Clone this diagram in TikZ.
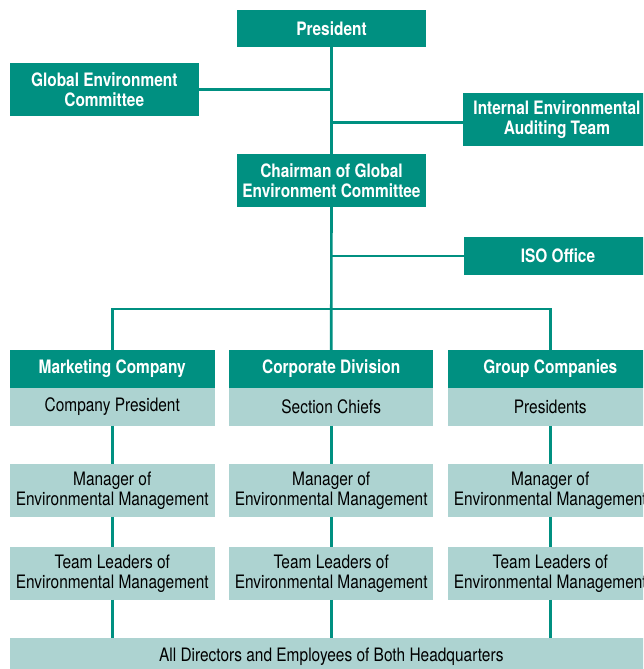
\documentclass[tikz,border=0pt]{standalone}
\usepackage{fontspec}
\setmainfont{TeX Gyre Heros}[FakeStretch=0.835]
\definecolor{teal1}{RGB}{0,144,129}
\definecolor{lite}{RGB}{173,211,209}
\begin{document}
\begin{tikzpicture}[x=1pt,y=-1pt,
  base/.style={rectangle, inner sep=0pt, align=center, font=\fontsize{18.5}{19.8}\selectfont},
  dark/.style={base, fill=teal1, text=white, font=\fontsize{18.5}{19.8}\selectfont\bfseries},
  light/.style={base, fill=lite, text=black},
  conn/.style={draw=teal1, line width=2.6pt}]
\useasboundingbox (0,0) rectangle (643,669);
\clip (0,0) rectangle (643,669);
% top part
\node[dark, minimum width=189pt, minimum height=37pt] (pres) at (331.5,28.5) {President};
\node[dark, minimum width=188.5pt, minimum height=52.7pt] (gec) at (104.25,89.35) {Global Environment\\Committee};
\node[dark, minimum width=188.5pt, minimum height=52.7pt] (ieat) at (557,119.35) {Internal Environmental\\Auditing Team};
\node[dark, minimum width=189pt, minimum height=52.7pt] (chair) at (331.5,180.35) {Chairman of Global\\Environment Committee};
\node[dark, minimum width=188.5pt, minimum height=38pt] (iso) at (558,256) {ISO Office};
% columns
\foreach \n/\cx/\h/\s in {a/112.25/Marketing Company/Company President,
                          b/331.2/Corporate Division/Section Chiefs,
                          c/550.3/Group Companies/Presidents}{
  \node[dark, minimum width=204.5pt, minimum height=37.7pt] (head\n) at (\cx,368.85) {\h};
  \node[light, minimum width=204.5pt, minimum height=38pt] (sub\n) at (\cx,406.7) {\s};
  \node[light, minimum width=204.5pt, minimum height=52.7pt] (mgr\n) at (\cx,490.35) {Manager of\\Environmental Management};
  \node[light, minimum width=204.5pt, minimum height=52.7pt] (team\n) at (\cx,573.35) {Team Leaders of\\Environmental Management};
}
\node[light, minimum width=642.6pt, minimum height=38.6pt] (all) at (331.3,657) {All Directors and Employees of Both Headquarters};
\coordinate (branch) at (331.5,309);
% connectors
\draw[conn] (pres.south) -- (chair.north);
\draw[conn] (chair.south) -- (headb.north);
\draw[conn] (gec.east) -- (gec.east -| pres.south);
\draw[conn] (ieat.west |- 0,122.7) -- (pres.south |- 0,122.7);
\draw[conn] (iso.west) -- (iso.west -| pres.south);
\draw[conn] (heada.north) -- (heada.north |- branch) -- (headc.north |- branch) -- (headc.north);
\foreach \n in {a,b,c}{
  \draw[conn] (sub\n.south) -- (mgr\n.north);
  \draw[conn] (mgr\n.south) -- (team\n.north);
  \draw[conn] (team\n.south) -- (team\n.south |- all.north);
}
\end{tikzpicture}
\end{document}
